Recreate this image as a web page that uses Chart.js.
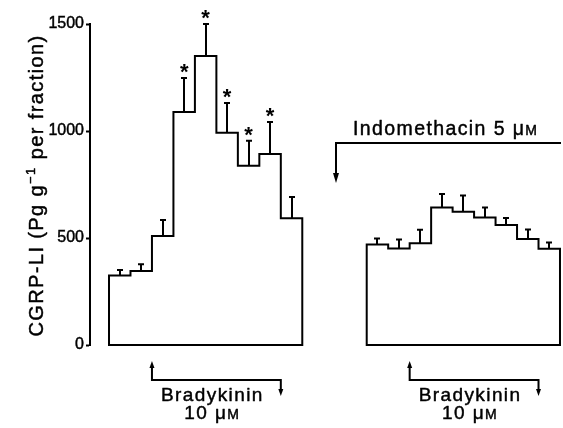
<!DOCTYPE html>
<html>
<head>
<meta charset="utf-8">
<script src="https://cdn.jsdelivr.net/npm/chart.js@4.4.0/dist/chart.umd.min.js"></script>
<style>
  html, body { margin: 0; padding: 0; background: #fff; }
  canvas { display: block; }
</style>
</head>
<body>
<canvas id="grafico" width="563" height="428"></canvas>
<script>
// CGRP-LI por fracción: bloque control y bloque con indometacina
const valoresControl = [325, 346, 509, 1089, 1350, 992, 838, 893, 592];
const erroresControl = [25, 31, 75, 159, 150, 139, 117, 149, 100];
const asteriscosControl = [3, 4, 5, 6, 7];

const valoresIndometacina = [470, 451, 475, 643, 623, 596, 561, 495, 450];
const erroresIndometacina = [28, 42, 64, 63, 76, 46, 32, 45, 29];

const ticksY = [0, 500, 1000, 1500];

// posición de cada bloque en el eje de fracciones
const inicioControl = 0;
const inicioIndometacina = 12;
const bradicinina = [2, 8];        // relativo al inicio de cada bloque
const inicioIndometacinaFlecha = 10.57;

const FUENTE = '"Liberation Sans", Arial, sans-serif';
const GROSOR_TEXTO = 0.45;

// Contorno cerrado del histograma (base, escalones, base)
function contorno(inicio, valores) {
    const puntos = [{ x: inicio, y: 0 }];
    valores.forEach((v, i) => {
        puntos.push({ x: inicio + i, y: v });
        puntos.push({ x: inicio + i + 1, y: v });
    });
    puntos.push({ x: inicio + valores.length, y: 0 });
    puntos.push({ x: inicio, y: 0 });
    return puntos;
}

function textoPartes(ctx, partes, x, baseY, centrado) {
    // partes: [texto, tamaño, subida]
    let total = 0;
    partes.forEach(p => {
        ctx.font = `${p[1]}px ${FUENTE}`;
        total += ctx.measureText(p[0]).width;
    });
    let px = centrado ? x - total / 2 : x;
    ctx.textAlign = 'left';
    ctx.textBaseline = 'alphabetic';
    ctx.lineWidth = GROSOR_TEXTO;
    ctx.lineJoin = 'round';
    partes.forEach(p => {
        ctx.font = `${p[1]}px ${FUENTE}`;
        ctx.strokeText(p[0], px, baseY - (p[2] || 0));
        ctx.fillText(p[0], px, baseY - (p[2] || 0));
        px += ctx.measureText(p[0]).width;
    });
    ctx.lineWidth = 2;
    ctx.lineJoin = 'miter';
    return total;
}

function punta(ctx, x, yPunta, dir, largo, ancho) {
    // dir = -1 hacia arriba, 1 hacia abajo
    ctx.beginPath();
    ctx.moveTo(x, yPunta);
    ctx.lineTo(x - ancho / 2, yPunta - dir * largo);
    ctx.lineTo(x + ancho / 2, yPunta - dir * largo);
    ctx.closePath();
    ctx.fill();
}

function dibujarErrores(ctx, x, y, inicio, valores, errores) {
    valores.forEach((v, i) => {
        const cx = Math.round(x.getPixelForValue(inicio + i + 0.5));
        const y0 = y.getPixelForValue(v);
        const y1 = y.getPixelForValue(v + errores[i]);
        ctx.beginPath();
        ctx.moveTo(cx, y0);
        ctx.lineTo(cx, y1);
        ctx.moveTo(cx - 3, y1);
        ctx.lineTo(cx + 3, y1);
        ctx.stroke();
    });
}

function dibujarBradicinina(ctx, x, base, inicio) {
    const xa = x.getPixelForValue(inicio + bradicinina[0]);
    const xb = x.getPixelForValue(inicio + bradicinina[1]);
    const yh = base + 35;
    ctx.beginPath();
    ctx.moveTo(xa, base + 22);
    ctx.lineTo(xa, yh);
    ctx.lineTo(xb, yh);
    ctx.lineTo(xb, base + 45);
    ctx.stroke();
    punta(ctx, xa, base + 16, -1, 7, 5);
    punta(ctx, xb, base + 51, 1, 7, 5);

    const cx = (xa + xb) / 2 - 4;
    textoPartes(ctx, [['Bradykinin', 19]], cx, base + 56, true);
    textoPartes(ctx, [['10 μ', 19], ['M', 14]], cx, base + 74, true);
}

const anotaciones = {
    id: 'anotaciones',
    afterDraw(chart) {
        const { ctx, scales: { x, y } } = chart;
        ctx.save();
        ctx.strokeStyle = '#000';
        ctx.fillStyle = '#000';
        ctx.lineWidth = 2;
        ctx.lineCap = 'butt';

        dibujarErrores(ctx, x, y, inicioControl, valoresControl, erroresControl);
        dibujarErrores(ctx, x, y, inicioIndometacina, valoresIndometacina, erroresIndometacina);

        // asteriscos sobre las fracciones significativas
        ctx.font = `bold 22px ${FUENTE}`;
        ctx.textAlign = 'center';
        ctx.textBaseline = 'alphabetic';
        asteriscosControl.forEach(i => {
            const cx = x.getPixelForValue(inicioControl + i + 0.5);
            const top = y.getPixelForValue(valoresControl[i] + erroresControl[i]);
            ctx.fillText('*', cx, top + 1);
        });

        ctx.letterSpacing = '1.4px';

        // indometacina
        const xi = x.getPixelForValue(inicioIndometacinaFlecha);
        const yi = y.getPixelForValue(944);
        ctx.beginPath();
        ctx.moveTo(chart.chartArea.right, yi);
        ctx.lineTo(xi, yi);
        ctx.lineTo(xi, y.getPixelForValue(790));
        ctx.stroke();
        punta(ctx, xi, y.getPixelForValue(757), 1, 10, 6);
        textoPartes(ctx, [['Indomethacin 5 μ', 19.5], ['M', 14]],
            x.getPixelForValue(11.36), y.getPixelForValue(981), false);

        // bradicinina bajo cada bloque
        const base = y.getPixelForValue(0);
        dibujarBradicinina(ctx, x, base, inicioControl);
        dibujarBradicinina(ctx, x, base, inicioIndometacina);

        // título del eje Y (girado, con superíndice)
        ctx.letterSpacing = '1.4px';
        ctx.translate(43, (chart.chartArea.top + chart.chartArea.bottom) / 2 + 1);
        ctx.rotate(-Math.PI / 2);
        const partes = [['CGRP-LI (Pg g', 20, 0], ['−1', 13, 8], [' per fraction)', 20, 0]];
        textoPartes(ctx, partes, 0, 0, true);

        ctx.restore();
    }
};

const estiloHistograma = {
    borderColor: '#000',
    backgroundColor: '#000',
    borderWidth: 2,
    pointRadius: 0,
    fill: false,
    tension: 0,
    borderJoinStyle: 'miter',
    borderCapStyle: 'square',
    clip: 4
};

new Chart(document.getElementById('grafico'), {
    type: 'line',
    data: {
        datasets: [
            { ...estiloHistograma, data: contorno(inicioControl, valoresControl) },
            { ...estiloHistograma, data: contorno(inicioIndometacina, valoresIndometacina) }
        ]
    },
    options: {
        responsive: false,
        animation: false,
        layout: { padding: { top: 24, right: 2, bottom: 83, left: 0 } },
        plugins: {
            colors: { enabled: false },
            legend: { display: false },
            tooltip: { enabled: false }
        },
        scales: {
            x: { type: 'linear', min: -0.885, max: 21.047, display: false },
            y: {
                min: 0,
                max: 1500,
                afterBuildTicks: (s) => { s.ticks = ticksY.map(v => ({ value: v })); },
                afterFit: (s) => { s.width = 90; },
                ticks: {
                    color: '#000',
                    padding: 2,
                    textStrokeColor: '#000',
                    textStrokeWidth: GROSOR_TEXTO,
                    font: { family: 'Liberation Sans', size: 16 },
                    callback: (v) => String(v)
                },
                grid: {
                    drawOnChartArea: false,
                    tickLength: 4,
                    tickWidth: 2,
                    color: '#000'
                },
                border: { color: '#000', width: 2 }
            }
        }
    },
    plugins: [anotaciones]
});
</script>
</body>
</html>
